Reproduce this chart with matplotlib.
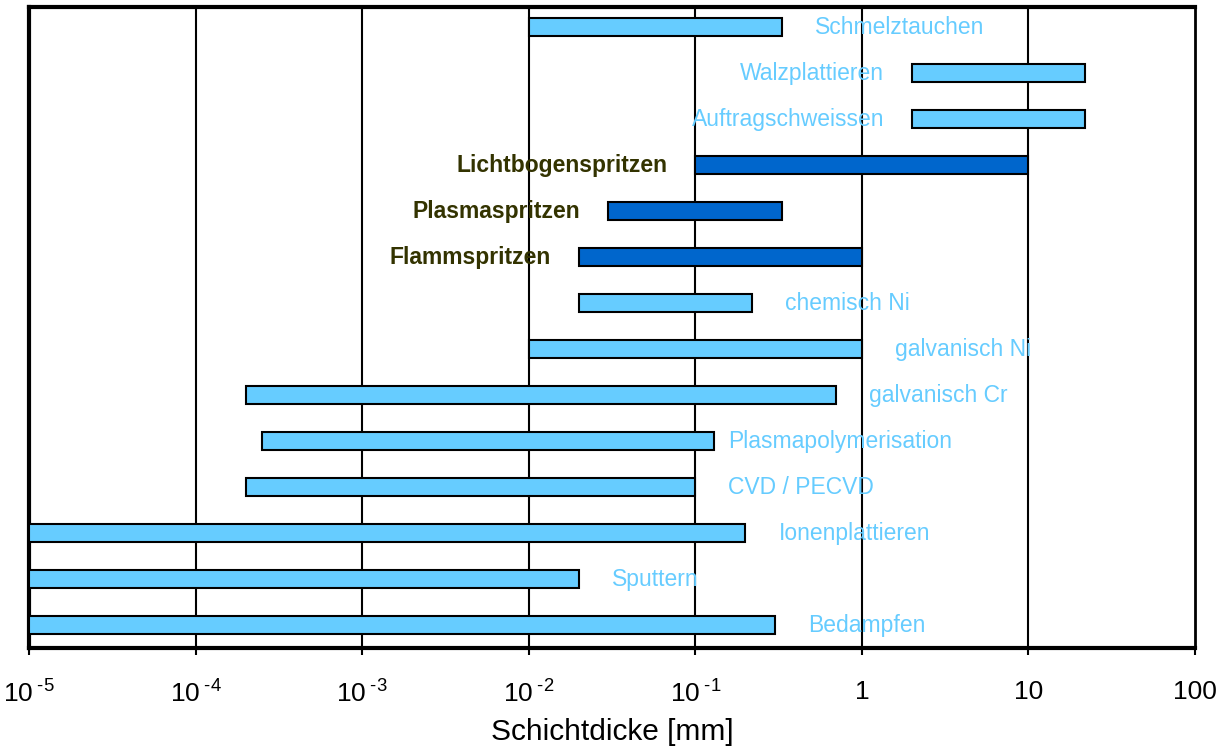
import numpy as np
import matplotlib
matplotlib.use('Agg')
import matplotlib.pyplot as plt
from matplotlib.ticker import FixedLocator, FixedFormatter, NullLocator

plt.rcParams['font.family'] = ['Liberation Sans', 'DejaVu Sans']
plt.rcParams['mathtext.fontset'] = 'custom'
plt.rcParams['mathtext.rm'] = 'Liberation Sans'
plt.rcParams['mathtext.it'] = 'Liberation Sans'

# coating processes, top to bottom, with thickness range [mm]
verfahren = ['Schmelztauchen', 'Walzplattieren', 'Auftragschweissen',
             'Lichtbogenspritzen', 'Plasmaspritzen', 'Flammspritzen',
             'chemisch Ni', 'galvanisch Ni', 'galvanisch Cr',
             'Plasmapolymerisation', 'CVD / PECVD', 'Ionenplattieren',
             'Sputtern', 'Bedampfen']
d_min = [0.01, 2, 2, 0.1, 0.03, 0.02, 0.02, 0.01, 2e-4, 2.5e-4, 2e-4, 1e-5, 1e-5, 1e-5]
d_max = [0.33, 22, 22, 10, 0.33, 1, 0.22, 1, 0.7, 0.13, 0.1, 0.2, 0.02, 0.3]
# thermal spraying processes are highlighted
spritzen = [False, False, False, True, True, True, False, False, False,
            False, False, False, False, False]
# label left of the bar?
links = [False, True, True, True, True, True, False, False, False,
         False, False, False, False, False]

tick_vals = [1e-5, 1e-4, 1e-3, 1e-2, 1e-1, 1, 10, 100]
tick_labels = ['$10^{\\;\\text{-5}}$', '$10^{\\;\\text{-4}}$', '$10^{\\;\\text{-3}}$',
               '$10^{\\;\\text{-2}}$', '$10^{\\;\\text{-1}}$', '1', '10', '100']

hell = '#66CCFF'
dunkel = '#0066CC'
text_dunkel = '#333300'

fig = plt.figure(figsize=(12.23, 7.47), dpi=100)
ax = fig.add_axes([0.0237, 0.1325, 0.9534, 0.8581])
ax.set_xscale('log')

y = np.arange(len(verfahren))
for i in range(len(verfahren)):
    farbe = dunkel if spritzen[i] else hell
    ax.barh(y[i], d_max[i] - d_min[i], left=d_min[i], height=0.39,
            color=farbe, edgecolor='black', linewidth=1.5, zorder=3)
    if links[i]:
        x, dx, ha = d_min[i], -28, 'right'
    else:
        dx = 14 if verfahren[i] == 'Plasmapolymerisation' else 33
        x, ha = d_max[i], 'left'
    if spritzen[i]:
        ax.annotate(verfahren[i], (x, y[i]), xytext=(dx * 0.72, 0),
                    textcoords='offset points', ha=ha, va='center',
                    fontsize=16.5, fontweight='bold', color=text_dunkel, zorder=4)
    else:
        ax.annotate(verfahren[i], (x, y[i]), xytext=(dx * 0.72, 0),
                    textcoords='offset points', ha=ha, va='center',
                    fontsize=16.5, color=hell, zorder=4)

ax.set_xlim(1e-5, 100)
ax.set_ylim(13.5, -0.435)
ax.set_yticks([])

ax.xaxis.set_major_locator(FixedLocator(tick_vals))
ax.xaxis.set_major_formatter(FixedFormatter(tick_labels))
ax.xaxis.set_minor_locator(NullLocator())
ax.tick_params(axis='x', direction='out', length=5, width=1.5,
               labelsize=19, pad=18)
for v in tick_vals[1:-1]:
    ax.axvline(v, color='black', linewidth=1.5, zorder=1)

for s in ['left', 'top', 'bottom']:
    ax.spines[s].set_linewidth(3)
ax.spines['right'].set_linewidth(2)

ax.set_xlabel('Schichtdicke [mm]', fontsize=21.5, labelpad=8)

fig.savefig('out.png', dpi=100)
